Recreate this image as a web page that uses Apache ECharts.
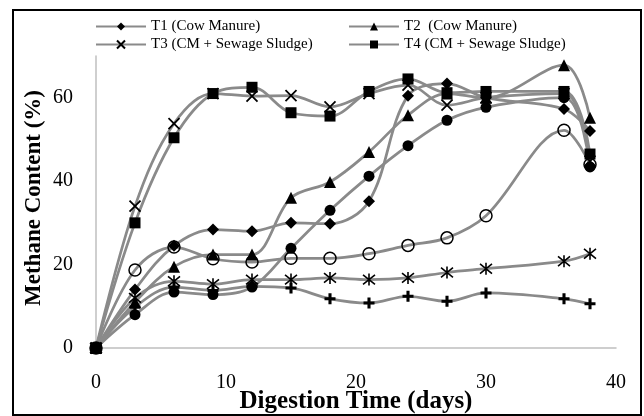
<!DOCTYPE html>
<html>
<head>
<meta charset="utf-8">
<script src="https://cdn.jsdelivr.net/npm/echarts@6/dist/echarts.min.js"></script>
<style>
html,body{margin:0;padding:0;background:#fff;}
#chart{width:644px;height:416px;}
</style>
</head>
<body>
<div id="chart"></div>
<script>
// Digestion days (x values)
var days = [0, 3, 6, 9, 12, 15, 18, 21, 24, 27, 30, 36, 38];
// Legend-labelled series
var t1 = [0, 14.0, 24.5, 28.4, 28.0, 30.0, 29.8, 35.2, 60.5, 63.4, 60.0, 57.3, 52.0];
var t2 = [0, 11.0, 19.5, 22.4, 22.4, 36.0, 39.8, 47.0, 55.8, 61.0, 60.0, 67.8, 55.2];
var t3 = [0, 34.0, 53.8, 61.0, 60.4, 60.5, 57.8, 61.0, 63.0, 58.2, 60.0, 61.0, 44.8];
var t4 = [0, 30.0, 50.4, 61.0, 62.5, 56.4, 55.6, 61.5, 64.5, 61.2, 61.5, 61.5, 46.5];
// Unlabelled series (not in legend)
var filledCircle = [0, 8.0, 13.4, 12.8, 14.6, 23.9, 33.0, 41.2, 48.5, 54.6, 57.7, 60.0, 43.4];
var openCircle = [0, 18.7, 24.2, 21.4, 20.6, 21.5, 21.5, 22.6, 24.6, 26.4, 31.7, 52.2, 44.0];
var star = [0, 12.0, 16.0, 15.3, 16.4, 16.4, 16.8, 16.4, 16.8, 18.1, 19.0, 20.8, 22.6];
var plus = [0, 9.8, 14.6, 13.8, 14.8, 14.4, 11.8, 10.8, 12.4, 11.2, 13.2, 11.8, 10.6];

var names = ['T1 (Cow Manure)', 'T2  (Cow Manure)', 'T3 (CM + Sewage Sludge)', 'T4 (CM + Sewage Sludge)'];
var xTitle = 'Digestion Time (days)';
var yTitle = 'Methane Content (%)';
var xTicks = [0, 10, 20, 30, 40];
var yTicks = [0, 20, 40, 60];

function pts(arr) { return days.map(function (d, i) { return [d, arr[i]]; }); }

var LINE = '#8a8a8a';
var FONT = '"Liberation Serif", "Times New Roman", serif';

function mk(name, arr, symbol, size, itemStyle) {
  return {
    name: name, type: 'line', data: pts(arr), smooth: 0.35,
    symbol: symbol, symbolSize: size,
    lineStyle: { color: LINE, width: 2.75 },
    itemStyle: itemStyle || { color: '#000' },
    emphasis: { disabled: true },
    z: 2
  };
}

var X_PATH = 'path://M0 0L10 10M10 0L0 10';
var STAR_PATH = 'path://M0 1L10 9M10 1L0 9M5 0L5 10';
var PLUS_PATH = 'path://M3.6 0H6.4V3.6H10V6.4H6.4V10H3.6V6.4H0V3.6H3.6Z';

var series = [
  mk('Series 5', filledCircle, 'circle', 11),
  mk('Series 6', openCircle, 'circle', 12, { color: 'rgba(0,0,0,0)', borderColor: '#000', borderWidth: 1.5 }),
  mk('Series 7', star, STAR_PATH, 12, { color: '#000', borderColor: '#000', borderWidth: 1.6 }),
  mk('Series 8', plus, PLUS_PATH, 11),
  mk(names[0], t1, 'diamond', 12),
  mk(names[1], t2, 'triangle', 12),
  mk(names[2], t3, X_PATH, 11, { color: '#000', borderColor: '#000', borderWidth: 1.8 }),
  mk(names[3], t4, 'rect', 11)
];

function lg(name, left, top) {
  return {
    data: [name], left: left, top: top, orient: 'horizontal',
    itemWidth: 50, itemHeight: 10, itemGap: 0, padding: 0,
    selectedMode: false,
    textStyle: { fontFamily: FONT, fontSize: 15, color: '#000' }
  };
}

var chart = echarts.init(document.getElementById('chart'), null, { renderer: 'canvas' });
chart.setOption({
  animation: false,
  backgroundColor: '#fff',
  grid: { left: 96, right: 28, top: 56, bottom: 68, containLabel: false },
  legend: [
    lg(names[0], 95, 19),
    lg(names[1], 348, 19),
    lg(names[2], 95, 37),
    lg(names[3], 348, 37)
  ],
  xAxis: {
    type: 'value', min: xTicks[0], max: xTicks[xTicks.length - 1], interval: 10,
    axisLine: { lineStyle: { color: '#bfbfbf', width: 1.5 } },
    axisTick: { show: false },
    splitLine: { show: false },
    axisLabel: { fontFamily: FONT, fontSize: 20, color: '#000', margin: 25 }
  },
  yAxis: {
    type: 'value', min: yTicks[0], max: 70, interval: 20,
    axisLine: { show: true, lineStyle: { color: '#bfbfbf', width: 1.5 } },
    axisTick: { show: false },
    splitLine: { show: false },
    axisLabel: {
      fontFamily: FONT, fontSize: 20, color: '#000', margin: 23, showMaxLabel: false,
      formatter: function (v) { return yTicks.indexOf(v) >= 0 ? String(v) : ''; }
    }
  },
  graphic: [
    {
      type: 'text', silent: true, x: 356, y: 402,
      style: {
        text: xTitle, fill: '#000', align: 'center', verticalAlign: 'middle',
        font: 'bold 25px ' + FONT
      }
    },
    {
      type: 'text', silent: true, x: 34, y: 198, rotation: Math.PI / 2,
      style: {
        text: yTitle, fill: '#000', align: 'center', verticalAlign: 'middle',
        font: 'bold 23px ' + FONT
      }
    },
    {
      type: 'rect', silent: true, z: 100,
      shape: { x: 13, y: 10, width: 628, height: 405 },
      style: { fill: 'none', stroke: '#000', lineWidth: 2 }
    }
  ],
  series: series
});
</script>
</body>
</html>
